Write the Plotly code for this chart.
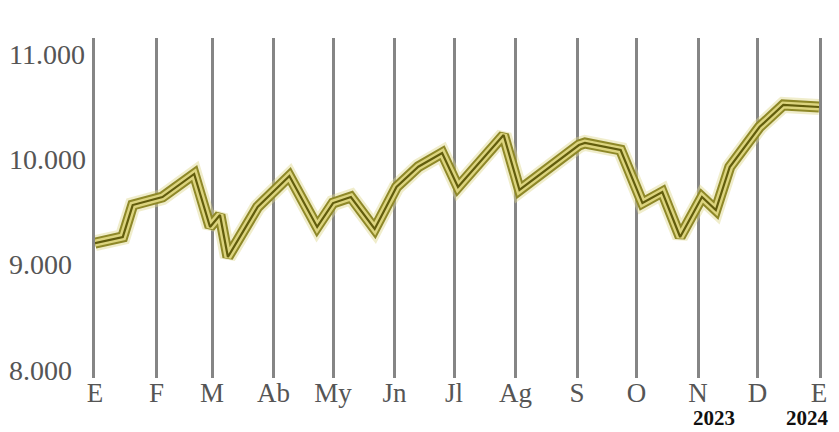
import plotly.graph_objects as go

dates = ["2023-01-01", "2023-01-15", "2023-01-20", "2023-02-04", "2023-02-20",
         "2023-02-28", "2023-03-05", "2023-03-09", "2023-03-24", "2023-04-09",
         "2023-04-23", "2023-05-01", "2023-05-10", "2023-05-22", "2023-06-02",
         "2023-06-13", "2023-06-25", "2023-07-03", "2023-07-26", "2023-08-03",
         "2023-09-02", "2023-09-05", "2023-09-23", "2023-10-04", "2023-10-14",
         "2023-10-23", "2023-11-03", "2023-11-10", "2023-11-17", "2023-11-25",
         "2023-12-02", "2023-12-14", "2024-01-01"]
values = [9205, 9263, 9566, 9642, 9861,
          9358, 9472, 9073, 9548, 9842,
          9358, 9585, 9642, 9339, 9737,
          9930, 10060, 9737, 10231, 9709,
          10136, 10155, 10089, 9585, 9690,
          9263, 9642, 9519, 9927, 10136,
          10307, 10516, 10497]

month_ticks = ["2023-01-01", "2023-02-01", "2023-03-01", "2023-04-01", "2023-05-01",
               "2023-06-01", "2023-07-01", "2023-08-01", "2023-09-01", "2023-10-01",
               "2023-11-01", "2023-12-01", "2024-01-01"]
month_labels = ["E", "F", "M", "Ab", "My", "Jn", "Jl", "Ag", "S", "O", "N", "D", "E"]

y_ticks = [8000, 9000, 10000, 11000]
y_labels = ["8.000", "9.000", "10.000", "11.000"]

year_pos = ["2023-11-09", "2023-12-26"]
year_labels = ["2023", "2024"]

FONT = "Liberation Serif, DejaVu Serif, serif"
GRID = "#858585"

fig = go.Figure()
# layered strokes to mimic the outlined band
for w, c in [(16, "rgba(222,216,140,0.45)"), (11, "#8e8828"), (7, "#dcd47e"), (2.2, "#625d0c")]:
    fig.add_trace(go.Scatter(x=dates, y=values, mode="lines",
                             line=dict(color=c, width=w, shape="linear"),
                             hoverinfo="skip", showlegend=False))

for yv, yl in zip(y_ticks, y_labels):
    fig.add_annotation(x=0, xref="paper", y=yv, yref="y", text=yl, showarrow=False,
                       xanchor="left", xshift=-88, yanchor="middle",
                       font=dict(family=FONT, size=28, color="#555555"))

for xv, yl in zip(year_pos, year_labels):
    fig.add_annotation(x=xv, xref="x", y=0, yref="paper", text="<b>" + yl + "</b>",
                       showarrow=False, xanchor="center", yanchor="bottom", yshift=-54,
                       font=dict(family=FONT, size=21, color="#111111"))

fig.update_layout(
    width=831, height=424,
    margin=dict(l=87, r=20, t=30, b=54),
    paper_bgcolor="white", plot_bgcolor="white",
    showlegend=False,
    xaxis=dict(range=["2023-01-01", "2024-01-01"], tickmode="array",
               tickvals=month_ticks, ticktext=month_labels,
               showgrid=True, gridcolor=GRID, gridwidth=2.5,
               ticks="", showline=False, zeroline=False, ticklabelstandoff=-4,
               tickfont=dict(family=FONT, size=27, color="#555555")),
    yaxis=dict(range=[7924, 11152], showgrid=False, zeroline=False,
               showticklabels=False, ticks="",
               showline=True, mirror=True, linecolor=GRID, linewidth=2.5),
)

fig.write_html("out.html")
